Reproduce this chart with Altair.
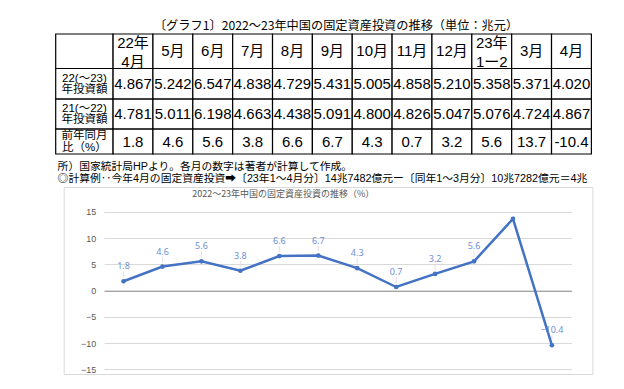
import altair as alt
import numpy as np
import pandas as pd

# ---------------- data ----------------
title_main = "〔グラフ1〕2022～23年中国の固定資産投資の推移（単位：兆元）"
chart_title = "2022～23年中国の固定資産投資の推移（%）"
months = ["22年\n4月", "5月", "6月", "7月", "8月", "9月", "10月", "11月", "12月",
          "23年\n1ー2", "3月", "4月"]
invest_22_23 = [4.867, 5.242, 6.547, 4.838, 4.729, 5.431, 5.005, 4.858, 5.210, 5.358, 5.371, 4.020]
invest_21_22 = [4.781, 5.011, 6.198, 4.663, 4.438, 5.091, 4.800, 4.826, 5.047, 5.076, 4.724, 4.867]
yoy_pct = [1.8, 4.6, 5.6, 3.8, 6.6, 6.7, 4.3, 0.7, 3.2, 5.6, 13.7, -10.4]
row_labels = ["", "22(～23)\n年投資額", "21(～22)\n年投資額", "前年同月\n比（%）"]
footnotes = [
    "所）国家統計局HPより。各月の数字は著者が計算して作成。",
    "\u2004◎計算例‥今年4月の固定資産投資➡〔23年1～4月分〕14兆7482億元ー〔同年1～3月分〕10兆7282億元＝4兆",
]
unlabeled_months = ["3月"]
y_ticks = [-15, -10, -5, 0, 5, 10, 15]

# ---------------- layout constants ----------------
LABEL_COL_W = 1.44
ROW_H = [1.15, 1.02, 1.0, 0.83]
TABLE_FONT = "Liberation Sans, Noto Sans CJK JP"
JP_FONT = "Noto Sans CJK JP"

# ---------------- table cells ----------------
col_edges = np.concatenate([[0.0, LABEL_COL_W], LABEL_COL_W + np.arange(1, len(months) + 1)])
row_edges = np.concatenate([[0.0], np.cumsum(ROW_H)])
rows_text = [
    [row_labels[0]] + months,
    [row_labels[1]] + [f"{v:.3f}" for v in invest_22_23],
    [row_labels[2]] + [f"{v:.3f}" for v in invest_21_22],
    [row_labels[3]] + [f"{v:.1f}" for v in yoy_pct],
]
records = []
for r, texts in enumerate(rows_text):
    for c, t in enumerate(texts):
        if c == 0:
            kind = "rowlabel"
        elif "\n" in t:
            kind = "multi"
        else:
            kind = "single"
        records.append(dict(
            x0=col_edges[c], x1=col_edges[c + 1],
            y0=row_edges[r], y1=row_edges[r + 1],
            xc=(col_edges[c] + col_edges[c + 1]) / 2,
            yc=(row_edges[r] + row_edges[r + 1]) / 2,
            text=t, kind=kind,
        ))
cells = pd.DataFrame(records)

xs = alt.Scale(domain=[0, float(col_edges[-1])], range=[-8, 527.7], nice=False, zero=False)
ys = alt.Scale(domain=[0, float(row_edges[-1])], range=[0, 120], nice=False, zero=False)
x_axis_a = alt.Axis(
    labels=False, ticks=False, domain=False, grid=False,
    title=footnotes, titleX=-6.6, titleY=6.5, titleAlign="left", titleBaseline="top",
    titleFont=TABLE_FONT, titleFontSize=10.8, titleFontWeight="normal",
    titleColor="black", titleLineHeight=12.5)
y_axis_a = alt.Axis(labels=False, ticks=False, domain=False, grid=False, title=None)


def tx(field):
    return alt.X(field, type="quantitative", scale=xs, axis=x_axis_a)


def ty(field):
    return alt.Y(field, type="quantitative", scale=ys, axis=y_axis_a)


base_t = alt.Chart(cells)
rects = base_t.mark_rect(fill="white", stroke="black", strokeWidth=1.2).encode(
    x=tx("x0"), x2="x1:Q", y=ty("y0"), y2="y1:Q",
)
single_text = base_t.transform_filter(alt.datum.kind == "single").mark_text(
    font=TABLE_FONT, fontSize=15, color="black", align="center", baseline="middle",
).encode(x=tx("xc"), y=ty("yc"), text="text:N")
multi_text = base_t.transform_filter(alt.datum.kind == "multi").mark_text(
    font=TABLE_FONT, fontSize=15, color="black", lineBreak="\n", lineHeight=19.5,
    align="center", baseline="middle", dy=-8.7,
).encode(x=tx("xc"), y=ty("yc"), text="text:N")
label_text = base_t.transform_filter(alt.datum.kind == "rowlabel").mark_text(
    font=TABLE_FONT, fontSize=11.5, color="black", lineBreak="\n", lineHeight=11.6,
    align="center", baseline="middle", dy=-5.3,
).encode(x=tx("xc"), y=ty("yc"), text="text:N")

panel_a = alt.layer(rects, single_text, multi_text, label_text).properties(
    width=528.7, height=120,
    title=alt.TitleParams(title_main, font=JP_FONT, fontSize=12.2, fontWeight="normal",
                          color="black", anchor="middle", dx=8, offset=1),
)

# ---------------- line chart ----------------
line_df = pd.DataFrame({"month": months, "yoy": yoy_pct})
line_df["show"] = [m not in unlabeled_months for m in months]

bx = alt.Scale(domain=months, range=[40.4, 507.7])
by = alt.Scale(domain=[-15, 15], range=[182.4, 25.0], nice=False, zero=False)
LINE_BLUE = "#4472C4"
x_axis_b = alt.Axis(labels=False, ticks=False, grid=False, domain=True,
                    domainColor="#8c8c8c", domainWidth=1, offset=-83.3, title=None)
y_axis_b = alt.Axis(values=y_ticks, orient="left", offset=-34, labelPadding=2,
                    ticks=False, tickSize=0, domain=False, grid=True,
                    gridColor="#d9d9d9", gridWidth=1,
                    labelFont="Liberation Sans", labelFontSize=9, labelColor="#595959",
                    title=None)
bxe = alt.X("month:N", sort=months, scale=bx, axis=x_axis_b)
bye = alt.Y("yoy:Q", scale=by, axis=y_axis_b)

base_l = alt.Chart(line_df)
line = base_l.mark_line(color=LINE_BLUE, strokeWidth=2.5).encode(x=bxe, y=bye)
pts = base_l.mark_circle(color=LINE_BLUE, size=22, opacity=1).encode(x=bxe, y=bye)
leaders = base_l.transform_filter(alt.datum.show).mark_rule(
    color="#d9d9d9", strokeWidth=0.8, yOffset=-10, y2Offset=-4,
).encode(x=bxe, y=bye, y2=alt.Y2("yoy:Q"))
labels = base_l.transform_filter(alt.datum.show).mark_text(
    dy=-15, font="Noto Sans", fontSize=9, color="#6f8fd6",
).encode(x=bxe, y=bye, text=alt.Text("yoy:Q", format=".1f"))

panel_b = alt.layer(leaders, line, pts, labels).properties(
    width=528.7, height=187,
    view=alt.ViewBackground(stroke="#d9d9d9", strokeWidth=1),
    title=alt.TitleParams(chart_title, font=JP_FONT, fontSize=9, fontWeight="normal",
                          color="#595959", anchor="start", frame="group", dx=128.5, offset=-12),
)

chart = alt.vconcat(panel_a, panel_b, spacing=1).properties(
    padding={"left": 45.7, "top": 11, "right": 0, "bottom": 0},
).configure_view(stroke="transparent")

chart.save("out.html", embed_options={"renderer": "svg", "actions": False})
